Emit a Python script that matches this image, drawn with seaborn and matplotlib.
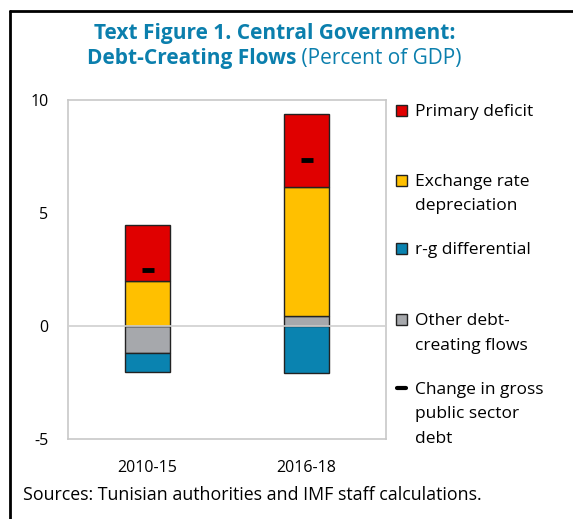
import numpy as np
import pandas as pd
import matplotlib
matplotlib.use("Agg")
import matplotlib.pyplot as plt
from matplotlib.patches import Rectangle
from matplotlib.lines import Line2D
import seaborn as sns

# data
periods = ["2010-15", "2016-18"]
primary_deficit = [2.48, 3.26]
exchange_rate = [2.01, 5.69]
rg_differential = [-0.83, -2.09]
other_flows = [-1.20, 0.44]
change_in_debt = [2.47, 7.36]

series_names = ["Other debt-creating flows", "r-g differential",
                "Exchange rate depreciation", "Primary deficit"]
series_values = [other_flows, rg_differential, exchange_rate, primary_deficit]
series_colors = ["#A6A8AC", "#0A83B0", "#FFC000", "#E00000"]

legend_labels = ["Primary deficit", "Exchange rate\ndepreciation", "r-g differential",
                 "Other debt-\ncreating flows", "Change in gross\npublic sector\ndebt"]
legend_colors = ["#E00000", "#FFC000", "#0A83B0", "#A6A8AC", None]

title_color = "#0B7FAD"

sns.set_theme(style="white")
plt.rcParams["font.family"] = ["Open Sans", "DejaVu Sans"]
plt.rcParams["axes.unicode_minus"] = False

W, H = 573, 519
fig = plt.figure(figsize=(W / 100, H / 100), dpi=100)


def fx(x):
    return x / W


def fy(y):
    return 1 - y / H


ax = fig.add_axes([fx(68), fy(439), fx(386) - fx(68), fy(100) - fy(439)])

# stacked bars, positives and negatives stacked separately
pos_base = np.zeros(len(periods))
neg_base = np.zeros(len(periods))
for name, vals, col in zip(series_names, series_values, series_colors):
    vals = np.array(vals)
    bottom = np.where(vals >= 0, pos_base, neg_base)
    df = pd.DataFrame({"period": periods, "value": vals})
    sns.barplot(data=df, x="period", y="value", color=col, width=0.28,
                bottom=bottom, errorbar=None, edgecolor="#222222",
                linewidth=1.0, saturation=1, ax=ax)
    pos_base = pos_base + np.where(vals >= 0, vals, 0)
    neg_base = neg_base + np.where(vals < 0, vals, 0)

sns.scatterplot(x=periods, y=change_in_debt, marker="_", s=70, linewidth=3.5,
                color="black", ax=ax, zorder=5)

ax.axhline(0, color="#D0D0D0", lw=1.2, zorder=3)
ax.set_xlim(-0.5, 1.5)
ax.set_ylim(-5, 10)
ax.set_yticks([-5, 0, 5, 10])
ax.set_xlabel("")
ax.set_ylabel("")
for s in ax.spines.values():
    s.set_color("#C8C8C8")
    s.set_linewidth(1.2)
ax.tick_params(axis="y", length=0, pad=14, labelsize=11.5, labelcolor="black")
ax.tick_params(axis="x", length=0, pad=15, labelsize=11.5, labelcolor="black")

# legend drawn by hand
first_baselines = [116, 186, 254, 325, 394]
line_step = 24.5
for lab, col, yb in zip(legend_labels, legend_colors, first_baselines):
    if col is not None:
        fig.patches.append(Rectangle((fx(396), fy(yb - 0.5)), 11 / W, 11 / H,
                                     transform=fig.transFigure, facecolor=col,
                                     edgecolor="#222222", linewidth=1.0))
    else:
        fig.add_artist(Line2D([fx(397), fx(406)], [fy(yb - 6)] * 2, color="black", lw=3,
                              transform=fig.transFigure))
    for i, line in enumerate(lab.split("\n")):
        fig.text(fx(415), fy(yb + i * line_step), line, fontsize=12.5,
                 va="baseline", ha="left", color="black")

# title
renderer = fig.canvas.get_renderer()
fig.text(fx(274.5), fy(39), "Text Figure 1. Central Government:", fontsize=15,
         fontweight="bold", color=title_color, ha="center", va="baseline")
t1 = fig.text(0, fy(64), "Debt-Creating Flows", fontsize=15, fontweight="bold",
              color=title_color, ha="left", va="baseline")
t2 = fig.text(0, fy(64), " (Percent of GDP)", fontsize=15, color=title_color,
              ha="left", va="baseline")
w1 = t1.get_window_extent(renderer).width
w2 = t2.get_window_extent(renderer).width
x0 = 274.5 - (w1 + w2) / 2
t1.set_x(fx(x0))
t2.set_x(fx(x0 + w1))

fig.text(fx(23), fy(500), "Sources: Tunisian authorities and IMF staff calculations.",
         fontsize=12.8, color="black", ha="left", va="baseline")

# outer frame
fig.add_artist(Line2D([fx(10), fx(10)], [fy(11), 0], color="black", lw=2,
                      transform=fig.transFigure))
fig.add_artist(Line2D([fx(10), 1], [fy(11), fy(11)], color="black", lw=2,
                      transform=fig.transFigure))

fig.savefig("out.png", dpi=100)
